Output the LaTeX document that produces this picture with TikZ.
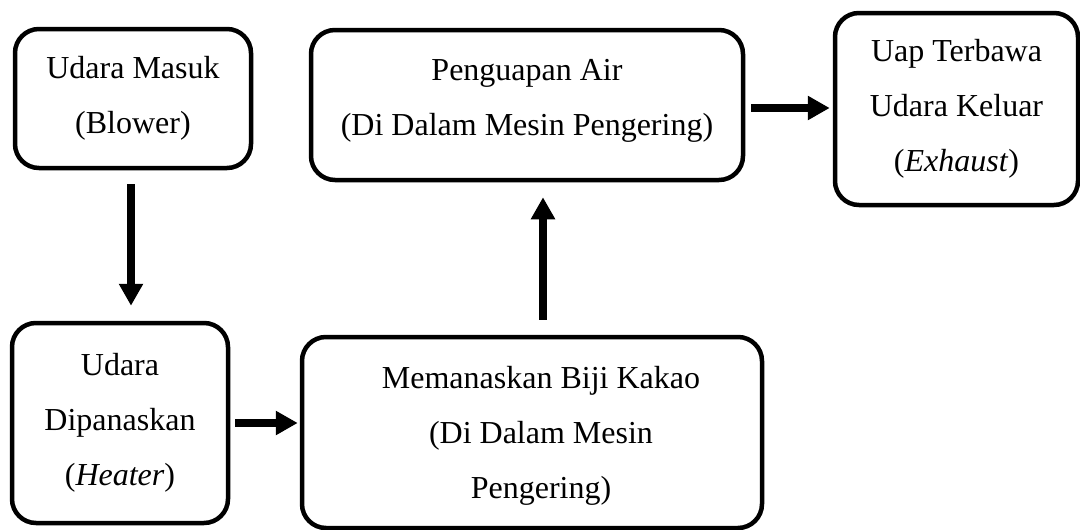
\documentclass[tikz,border=0pt]{standalone}
\usepackage{fontspec}
\setmainfont{Liberation Serif}
\usetikzlibrary{arrows.meta,calc}
\begin{document}
\begin{tikzpicture}[x=1pt,y=-1pt,
  box/.style={draw=black, line width=4.5pt, rounded corners=24pt, align=center,
    inner sep=0pt, font=\fontsize{32pt}{55pt}\selectfont, text=black},
  arr/.style={line width=8.5pt, -{Triangle[length=22pt,width=23pt]}}]
\useasboundingbox (0,0) rectangle (1080,530);
\node[box, minimum width=236pt, minimum height=139pt] (b1) at (133,98.5) {Udara Masuk\\(Blower)};
\node[box, minimum width=432pt, minimum height=150pt] (b2) at (527,105) {};
\node[align=center, inner sep=0pt, font=\fontsize{32pt}{55pt}\selectfont] (t2) at (527,101) {Penguapan Air\\(Di Dalam Mesin Pengering)};
\node[box, minimum width=243pt, minimum height=192pt] (b3) at (956.5,109) {Uap Terbawa\\Udara Keluar\\(\textit{Exhaust})};
\node[box, minimum width=216pt, minimum height=200pt] (b4) at (120,423) {Udara\\Dipanaskan\\(\textit{Heater})};
\node[box, minimum width=460pt, minimum height=191pt] (b5) at (532,432.5) {};
\node[align=center, inner sep=0pt, font=\fontsize{32pt}{55pt}\selectfont] (t5) at (541,436) {Memanaskan Biji Kakao\\(Di Dalam Mesin\\Pengering)};
\coordinate (a1) at ($(b1.south)+(-2,0)$);
\draw[arr, shorten <=14pt, shorten >=15pt] (a1) -- (a1 |- b4.north);
\coordinate (a2) at ($(b2.east)+(0,3)$);
\draw[arr, shorten <=6pt, shorten >=3pt] (a2) -- (a2 -| b3.west);
\draw[arr, shorten <=5pt, shorten >=2pt] (b4.east) -- (b4.east -| b5.west);
\coordinate (a4) at ($(b5.north)+(11,0)$);
\draw[arr, shorten <=15pt, shorten >=15pt] (a4) -- (a4 |- b2.south);
\end{tikzpicture}
\end{document}
